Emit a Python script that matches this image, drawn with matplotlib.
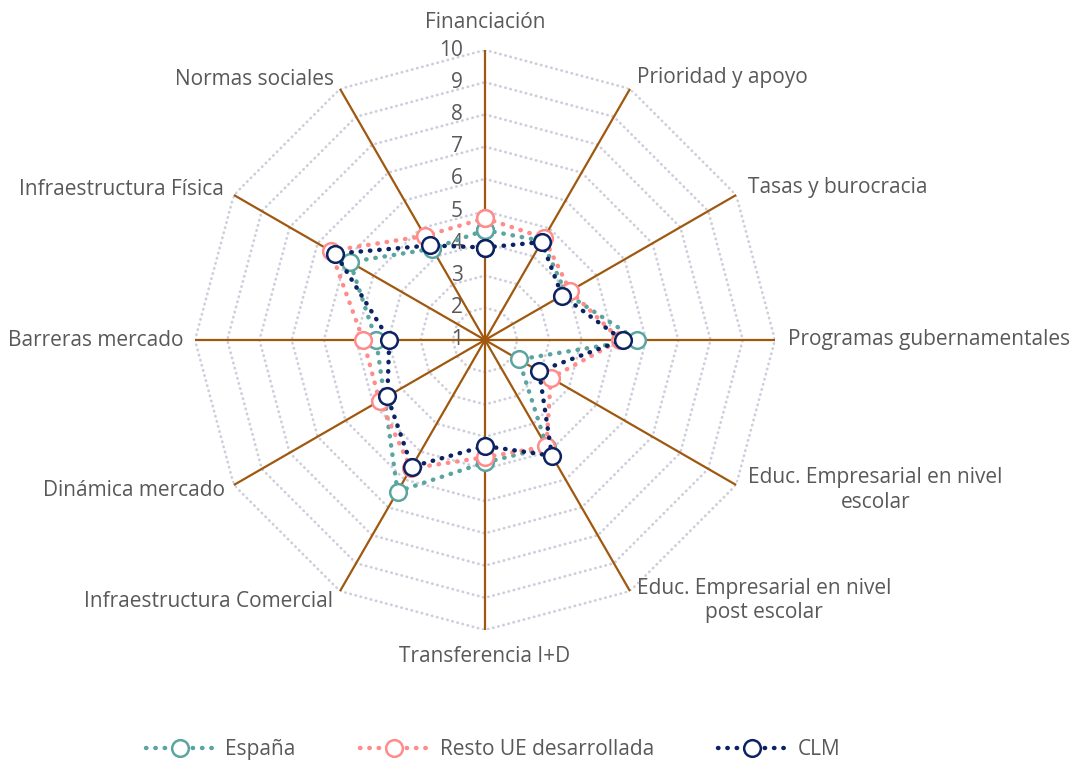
import numpy as np
import matplotlib
matplotlib.use("Agg")
import matplotlib.pyplot as plt
from matplotlib.lines import Line2D

plt.rcParams['font.family'] = ['Open Sans', 'DejaVu Sans']

categories = ["Financiación", "Prioridad y apoyo", "Tasas y burocracia",
              "Programas gubernamentales", "Educ. Empresarial en nivel\nescolar",
              "Educ. Empresarial en nivel\npost escolar", "Transferencia I+D",
              "Infraestructura Comercial", "Dinámica mercado", "Barreras mercado",
              "Infraestructura Física", "Normas sociales"]
espana = [4.41, 4.55, 3.9, 5.73, 2.21, 4.85, 4.8, 6.43, 4.6, 4.38, 5.84, 4.27]
resto_ue = [4.78, 4.66, 4.05, 5.2, 3.36, 4.81, 4.64, 5.6, 4.78, 4.78, 6.53, 4.73]
clm = [3.87, 4.51, 3.76, 5.27, 2.94, 5.15, 4.29, 5.54, 4.5, 3.97, 6.36, 4.39]
ticks = [1, 2, 3, 4, 5, 6, 7, 8, 9, 10]

series = [("España", espana, "#5ba5a1"),
          ("Resto UE desarrollada", resto_ue, "#ff8b8b"),
          ("CLM", clm, "#0b2362")]

txt_color = "#595959"
n = len(categories)
angles = np.arange(n) * 2 * np.pi / n
closed = np.append(angles, angles[0])

fig = plt.figure(figsize=(10.77, 7.75), dpi=100)
ax = fig.add_axes([195 / 1077, 145 / 775, 580 / 1077, 580 / 775], polar=True)
ax.set_theta_offset(np.pi / 2)
ax.set_theta_direction(-1)
ax.set_ylim(1, 10)
ax.grid(False)
ax.spines['polar'].set_visible(False)
ax.set_xticks([])
ax.set_yticks([])

# polygon grid
for t in ticks[1:]:
    ax.plot(closed, [t] * (n + 1), color="#cdcedb", lw=2,
            linestyle=(0, (0.1, 1.8)), dash_capstyle='round', zorder=1)
# spokes
for a in angles:
    ax.plot([a, a], [1, 10], color="#a0580f", lw=1.6, zorder=2)

# scale labels
for t in ticks:
    ax.annotate(str(t), (0, t), xytext=(-22, 0), textcoords='offset pixels',
                ha='right', va='center', fontsize=15, color=txt_color, zorder=3)

# category labels
label_pos = [((0, 28), 'center'), ((7, 11), 'left'), ((12, 7), 'left'),
             ((13, 0), 'left'), ((12, -5), 'left'), ((7, -9), 'left'),
             ((0, -27), 'center'), ((-7, -10), 'right'), ((-9, -6), 'right'),
             ((-11, 0), 'right'), ((-10, 5), 'right'), ((-6, 9), 'right')]
for a, lab, (off, ha) in zip(angles, categories, label_pos):
    ax.annotate(lab, (a, 10), xytext=off, textcoords='offset pixels',
                ha=ha, va='center', multialignment='center',
                fontsize=15, color=txt_color, annotation_clip=False)

handles = []
for name, vals, col in series:
    ax.plot(closed, vals + vals[:1], color=col, lw=3.2,
            linestyle=(0, (0.1, 2.0)), dash_capstyle='round',
            marker='o', markersize=12, markerfacecolor='white',
            markeredgecolor=col, markeredgewidth=1.8, zorder=4)
    handles.append(Line2D([], [], color=col, lw=3.2, linestyle=(0, (0.1, 2.0)),
                          dash_capstyle='round', marker='o', markersize=12,
                          markerfacecolor='white', markeredgecolor=col,
                          markeredgewidth=1.8, label=name))

fig.legend(handles=handles, loc='lower center', bbox_to_anchor=(0.458, -0.005),
           ncol=3, frameon=False, fontsize=15, handlelength=3.2,
           handletextpad=0.6, columnspacing=3.1, labelcolor=txt_color)

fig.savefig("out.png", dpi=100)
